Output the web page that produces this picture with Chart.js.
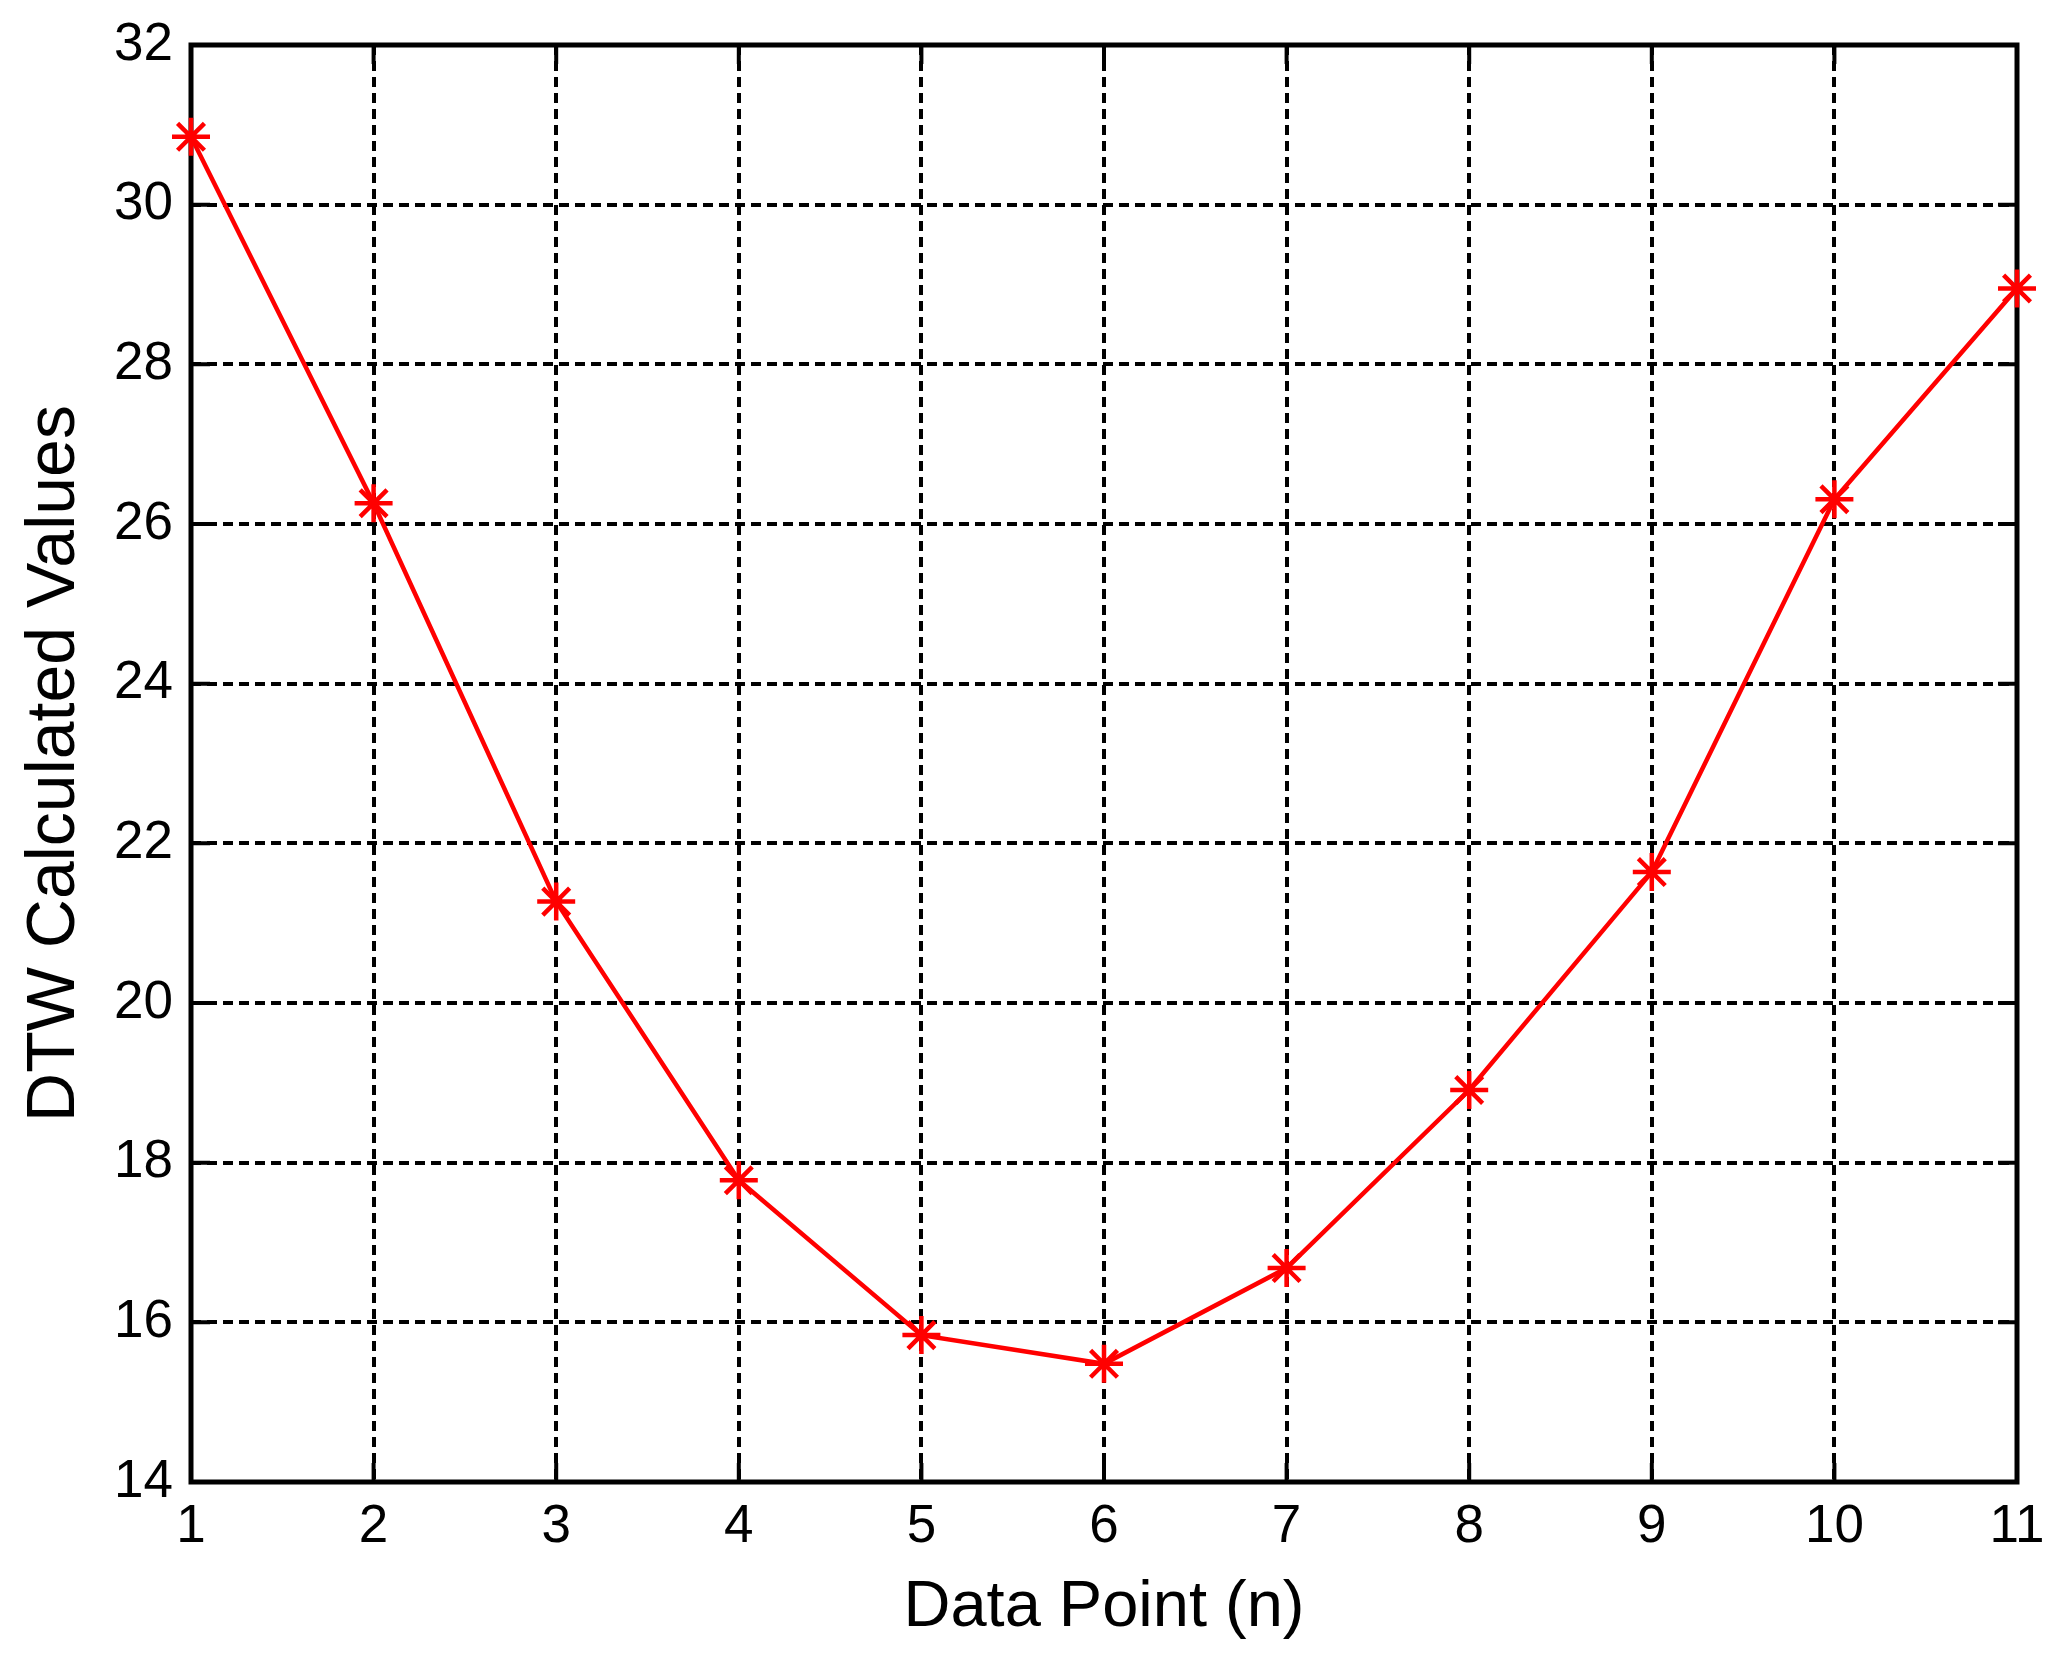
<!DOCTYPE html>
<html>
<head>
<meta charset="utf-8">
<script src="https://cdn.jsdelivr.net/npm/chart.js@4.4.1/dist/chart.umd.min.js"></script>
<style>
    html, body { margin: 0; padding: 0; background: #ffffff; }
    #wrap { width: 2069px; height: 1670px; }
</style>
</head>
<body>
<div id="wrap"><canvas id="graficaDTW" width="2069" height="1670"></canvas></div>
<script>
// datos
const puntos = [1, 2, 3, 4, 5, 6, 7, 8, 9, 10, 11];
const valoresDTW = [30.85, 26.26, 21.27, 17.78, 15.84, 15.48, 16.68, 18.91, 21.64, 26.31, 28.95];
const ticksX = [1, 2, 3, 4, 5, 6, 7, 8, 9, 10, 11];
const ticksY = [14, 16, 18, 20, 22, 24, 26, 28, 30, 32];

const fuente = "'Liberation Sans', Arial, sans-serif";

// caja negra y marcas interiores (estilo MATLAB)
const cajaEjes = {
    id: 'cajaEjes',
    beforeDatasetsDraw(chart) {
        const ctx = chart.ctx;
        const a = chart.chartArea;
        const sx = chart.scales.x;
        const sy = chart.scales.y;
        const largo = 19;
        ctx.save();
        ctx.strokeStyle = '#000';
        ctx.lineWidth = 4;
        ctx.setLineDash([]);
        ctx.beginPath();
        ticksX.forEach(v => {
            const px = sx.getPixelForValue(v);
            ctx.moveTo(px, a.bottom); ctx.lineTo(px, a.bottom - largo);
            ctx.moveTo(px, a.top); ctx.lineTo(px, a.top + largo);
        });
        ticksY.forEach(v => {
            const py = sy.getPixelForValue(v);
            ctx.moveTo(a.left, py); ctx.lineTo(a.left + largo, py);
            ctx.moveTo(a.right, py); ctx.lineTo(a.right - largo, py);
        });
        ctx.stroke();
        ctx.lineWidth = 5;
        ctx.strokeRect(a.left, a.top, a.right - a.left, a.bottom - a.top);
        ctx.restore();
    }
};

const ctx = document.getElementById('graficaDTW').getContext('2d');
const grafica = new Chart(ctx, {
    type: 'line',
    data: {
        datasets: [{
            label: 'DTW',
            data: puntos.map((p, i) => ({ x: p, y: valoresDTW[i] })),
            borderColor: '#ff0000',
            borderWidth: 4.5,
            pointStyle: 'star',
            pointRadius: 19,
            pointBorderWidth: 4.5,
            pointBorderColor: '#ff0000',
            pointBackgroundColor: '#ff0000',
            fill: false,
            tension: 0,
            clip: false
        }]
    },
    options: {
        responsive: false,
        animation: false,
        layout: { padding: { left: 0, top: 45, right: 52, bottom: 0 } },
        plugins: {
            legend: { display: false },
            tooltip: { enabled: false }
        },
        scales: {
            x: {
                type: 'linear',
                min: 1,
                max: 11,
                afterBuildTicks: (eje) => { eje.ticks = ticksX.map(v => ({ value: v })); },
                afterFit: (eje) => {
                    eje.height = 188;
                    eje.paddingLeft = 0;
                    eje.paddingRight = 0;
                },
                ticks: {
                    color: '#000',
                    font: { family: fuente, size: 53 },
                    padding: 14,
                    maxRotation: 0,
                    autoSkip: false
                },
                grid: { color: '#000', lineWidth: 4, drawTicks: false },
                border: { display: false, dash: [10, 6] },
                title: {
                    display: true,
                    text: 'Data Point (n)',
                    color: '#000',
                    font: { family: fuente, size: 65 },
                    padding: { top: 0, bottom: 23 }
                }
            },
            y: {
                type: 'linear',
                min: 14,
                max: 32,
                afterBuildTicks: (eje) => { eje.ticks = ticksY.map(v => ({ value: v })); },
                afterFit: (eje) => {
                    eje.width = 191;
                    eje.paddingTop = 0;
                    eje.paddingBottom = 0;
                },
                ticks: {
                    color: '#000',
                    font: { family: fuente, size: 53 },
                    padding: 18
                },
                grid: { color: '#000', lineWidth: 4, drawTicks: false },
                border: { display: false, dash: [10, 6] },
                title: {
                    display: true,
                    text: 'DTW Calculated Values',
                    color: '#000',
                    font: { family: fuente, size: 68 },
                    padding: { top: 14, bottom: 0 }
                }
            }
        }
    },
    plugins: [cajaEjes]
});
</script>
</body>
</html>
